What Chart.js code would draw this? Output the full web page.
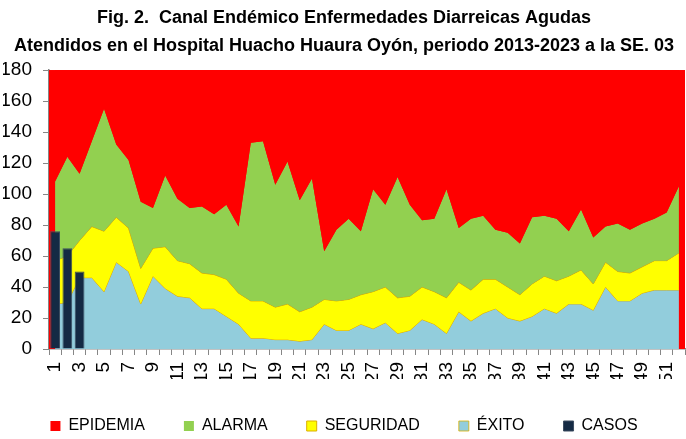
<!DOCTYPE html>
<html>
<head>
<meta charset="utf-8">
<script src="https://cdn.jsdelivr.net/npm/chart.js@4.4.1/dist/chart.umd.min.js"></script>
<style>
  html, body { margin: 0; padding: 0; background: #ffffff; }
  #wrap { width: 686px; height: 439px; position: relative; }
</style>
</head>
<body>
<div id="wrap"><canvas id="c"></canvas></div>
<script>
// ---- Data ----
const semanas = ['1','2','3','4','5','6','7','8','9','10','11','12','13','14','15','16','17','18','19','20',
  '21','22','23','24','25','26','27','28','29','30','31','32','33','34','35','36','37','38','39','40',
  '41','42','43','44','45','46','47','48','49','50','51','52'];

const exito = [29,30,46,46,37,56,50,29,47,39,34,33,26,26,21,16,7,7,6,6,
  5,6,16,12,12,16,13,17,10,12,19,16,10,24,18,23,26,20,18,21,
  26,23,29,29,25,40,31,31,36,38,38,38];

const seguridad = [57,60,70,79,76,85,78,52,65,66,57,55,49,48,45,36,31,31,27,29,
  24,27,32,31,32,35,37,40,33,34,40,37,33,43,38,45,45,40,35,42,
  47,44,47,51,42,56,50,49,53,57,57,62];

const alarma = [108,124,113,134,155,132,122,95,91,112,97,91,92,87,93,79,133,134,106,121,
  96,110,63,77,84,76,103,93,111,93,83,84,103,78,84,86,77,75,68,85,
  86,84,76,90,72,79,81,77,81,84,88,105];

const casos = [76,65,50];

const yTicks = { min: 0, max: 180, step: 20 };

const COLORS = {
  epidemia: '#ff0000',
  alarma: '#92d050',
  seguridad: '#ffff00',
  exito: '#92cddc',
  casos: '#142a44',
  axis: '#868686'
};

const FONT = "'Liberation Sans', Arial, sans-serif";

// fills the plot area with the EPIDEMIA colour (zone above the alarm line)
const plotBg = {
  id: 'plotBg',
  beforeDatasetsDraw(chart) {
    const { ctx, chartArea } = chart;
    ctx.save();
    ctx.fillStyle = chart.data.datasets[0].backgroundColor;
    ctx.fillRect(chartArea.left, chartArea.top, chartArea.right - chartArea.left, chartArea.bottom - chartArea.top);
    ctx.restore();
  }
};

new Chart(document.getElementById('c'), {
  type: 'bar',
  data: {
    labels: semanas,
    datasets: [
      { type: 'line', label: 'EPIDEMIA', data: alarma, backgroundColor: COLORS.epidemia, borderColor: COLORS.epidemia,
        borderWidth: 0, pointRadius: 0, tension: 0, fill: 'end', order: 1 },
      { type: 'line', label: 'ALARMA', data: alarma, backgroundColor: COLORS.alarma, borderColor: COLORS.alarma,
        borderWidth: 0, pointRadius: 0, tension: 0, fill: '+1', order: 1 },
      { type: 'line', label: 'SEGURIDAD', data: seguridad, backgroundColor: COLORS.seguridad, borderColor: '#dcae00',
        borderWidth: 1, pointRadius: 0, tension: 0, fill: '+1', order: 1 },
      { type: 'line', label: 'ÉXITO', data: exito, backgroundColor: COLORS.exito, borderColor: '#d8b000',
        borderWidth: 0.8, pointRadius: 0, tension: 0, fill: 'origin', order: 1 },
      { type: 'bar', label: 'CASOS', data: casos, backgroundColor: COLORS.casos, borderColor: '#3c4d60',
        borderWidth: 1, barPercentage: 1.0, categoryPercentage: 0.8, order: 0 }
    ]
  },
  options: {
    responsive: true,
    maintainAspectRatio: false,
    animation: false,
    layout: { padding: { left: 3, right: 1, top: 0, bottom: 0 } },
    plugins: {
      tooltip: { enabled: false },
      title: {
        display: true,
        text: ['Fig. 2.  Canal Endémico Enfermedades Diarreicas Agudas',
               'Atendidos en el Hospital Huacho Huaura Oyón, periodo 2013-2023 a la SE. 03'],
        color: '#000000',
        font: { family: FONT, size: 18, weight: 'bold', lineHeight: 1.556 },
        padding: { top: 4, bottom: 10 }
      },
      legend: {
        position: 'bottom',
        maxHeight: 60,
        labels: {
          color: '#000000',
          font: { family: FONT, size: 16 },
          boxWidth: 10,
          boxHeight: 10,
          padding: 39,
          sort: (a, b) => a.datasetIndex - b.datasetIndex
        }
      }
    },
    scales: {
      x: {
        offset: true,
        grid: { display: true, drawOnChartArea: false, drawTicks: true, tickLength: 6, color: COLORS.axis, offset: true },
        border: { display: true, color: COLORS.axis, width: 1.5 },
        ticks: {
          autoSkip: false,
          maxRotation: 90,
          minRotation: 90,
          padding: 7,
          color: '#000000',
          font: { family: FONT, size: 19 },
          callback: function (val, idx) { return idx % 2 === 0 ? this.getLabelForValue(val) : ''; }
        },
        afterFit(scale) { scale.height = 30; scale.paddingLeft = 0; scale.paddingRight = 0; }
      },
      y: {
        min: yTicks.min,
        max: yTicks.max,
        grid: { display: true, drawOnChartArea: false, drawTicks: true, tickLength: 6, color: COLORS.axis },
        border: { display: true, color: COLORS.axis, width: 1.5 },
        ticks: {
          stepSize: yTicks.step,
          padding: 11,
          color: '#000000',
          font: { family: FONT, size: 19 }
        },
        afterFit(scale) { scale.width = 46; scale.paddingTop = 0; scale.paddingBottom = 0; }
      }
    }
  },
  plugins: [plotBg]
});
</script>
</body>
</html>
